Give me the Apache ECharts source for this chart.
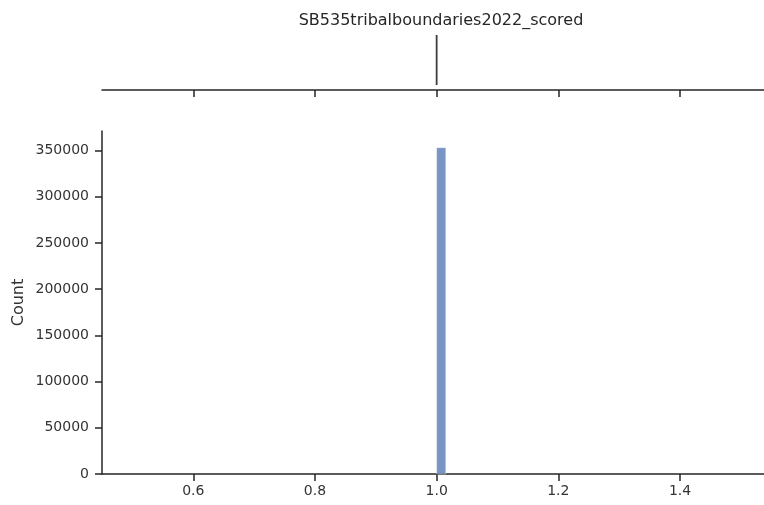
<!DOCTYPE html>
<html><head><meta charset="utf-8">
<script src="https://cdn.jsdelivr.net/npm/echarts@6/dist/echarts.min.js"></script>
<style>html,body{margin:0;padding:0;background:#fff}#c{width:764px;height:505px}</style>
</head><body><div id="c"></div>
<script>
const title = 'SB535tribalboundaries2022_scored';
const binStart = [1.0];
const binEnd = [1.015];
const counts = [353000];
const boxData = [[1, 1, 1, 1, 1]];
const xTicks = [0.6, 0.8, 1.0, 1.2, 1.4];
const yLabel = 'Count';

const chart = echarts.init(document.getElementById('c'), null, {renderer: 'canvas'});
const axisColor = '#262626';
const font = 'DejaVu Sans';
const xCommon = {
  type: 'value', min: 0.45, max: 1.538,
  splitLine: {show: false},
  axisLine: {show: true, onZero: false, lineStyle: {color: axisColor, width: 1.5}},
  axisTick: {show: true, inside: false, length: 7, customValues: xTicks, lineStyle: {color: axisColor, width: 1.5}}
};
chart.setOption({
  animation: false,
  title: {text: title, left: 436, textAlign: 'center', top: 8, textStyle: {fontFamily: font, fontSize: 16, fontWeight: 'normal', color: '#262626'}},
  grid: [
    {left: 102, right: 0, top: 30, height: 60},
    {left: 102, right: 0, top: 131, bottom: 31}
  ],
  xAxis: [
    Object.assign({gridIndex: 0, axisLabel: {show: false}}, xCommon),
    Object.assign({gridIndex: 1, axisLabel: {show: true, customValues: xTicks, margin: 10, color: '#333', fontFamily: font, fontSize: 14, formatter: v => v.toFixed(1)}}, xCommon)
  ],
  yAxis: [
    {gridIndex: 0, type: 'category', data: [''], show: false},
    {gridIndex: 1, type: 'value', min: 0, max: 371000, interval: 50000,
     name: yLabel, nameLocation: 'middle', nameGap: 75, nameRotate: 90, nameMoveOverlap: false,
     nameTextStyle: {fontFamily: font, fontSize: 16, color: '#333'},
     splitLine: {show: false},
     axisLine: {show: true, lineStyle: {color: axisColor, width: 1.5}},
     axisTick: {show: true, length: 7, lineStyle: {color: axisColor, width: 1.5}},
     axisLabel: {margin: 13, color: '#333', fontFamily: font, fontSize: 14, showMaxLabel: false, formatter: v => String(v)}}
  ],
  series: [
    {type: 'boxplot', xAxisIndex: 0, yAxisIndex: 0, layout: 'horizontal', data: boxData,
     boxWidth: [50, 50],
     itemStyle: {color: '#fff', borderColor: '#3d3d3d', borderWidth: 1.8}},
    {type: 'custom', xAxisIndex: 1, yAxisIndex: 1,
     data: counts.map((c, i) => [binStart[i], binEnd[i], c]),
     renderItem: function (params, api) {
       const p0 = api.coord([api.value(0), 0]);
       const p1 = api.coord([api.value(1), api.value(2)]);
       return {type: 'rect', shape: {x: p0[0], y: p1[1], width: p1[0] - p0[0], height: p0[1] - p1[1]},
               style: {fill: 'rgba(76,114,176,0.75)', stroke: 'rgba(255,255,255,0.6)', lineWidth: 0.6}};
     }}
  ]
});
</script></body></html>
